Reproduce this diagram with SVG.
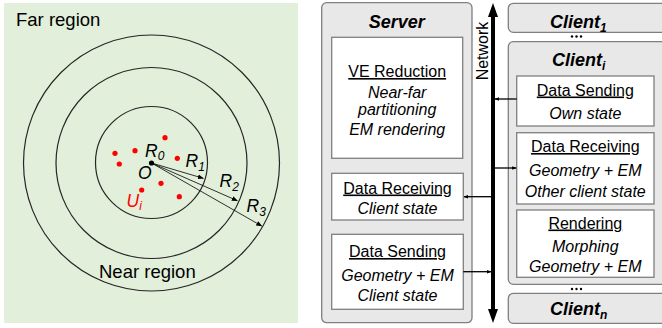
<svg xmlns="http://www.w3.org/2000/svg" width="662" height="328" viewBox="0 0 662 328">
<defs>
<style>
text{font-family:"Liberation Sans",Arial,sans-serif;fill:#000}
.lbl{font-size:18.5px}
.m{font-style:italic;font-size:17.5px}
.sub{font-style:italic;font-size:12px}
.h{font-size:16px;text-anchor:middle;text-decoration:underline}
.b{font-size:16px;font-style:italic;text-anchor:middle}
.ttl{font-size:18px;font-weight:bold;font-style:italic}
.outer{fill:#e8e8e8;stroke:#7f7f7f;stroke-width:1.3}
.inner{fill:#fff;stroke:#7f7f7f;stroke-width:1.3}
.ring{fill:none;stroke:#262626;stroke-width:1.2}
.conn{stroke:#000;stroke-width:1.3;fill:none}
.thin{stroke:#000;stroke-width:0.8;fill:none}
.dot{fill:#ff0000}
</style>
<marker id="ah" viewBox="0 0 10 10" refX="9" refY="5" markerWidth="4.5" markerHeight="4.5" orient="auto" markerUnits="userSpaceOnUse">
<path d="M0,1 L10,5 L0,9 z" fill="#000"/>
</marker>
<marker id="ahs" viewBox="0 0 10 10" refX="9" refY="5" markerWidth="6" markerHeight="6" orient="auto" markerUnits="userSpaceOnUse">
<path d="M0,1 L10,5 L0,9 z" fill="#000"/>
</marker>
</defs>

<!-- Left panel: near-far regions -->
<g id="regions">
<rect x="4" y="3" width="294" height="320" fill="#e2efda"/>
<circle cx="151.5" cy="163" r="128" fill="#fbe5d6" class="ring"/>
<circle cx="151.5" cy="163" r="95.5" class="ring"/>
<circle cx="151.5" cy="162.5" r="56" class="ring"/>
<text class="lbl" x="16" y="26">Far region</text>
<text class="lbl" x="99" y="278">Near region</text>
</g>
<g id="users">
<circle class="dot" cx="115" cy="153.3" r="2.6"/>
<circle class="dot" cx="135" cy="150.7" r="2.6"/>
<circle class="dot" cx="165" cy="137.7" r="2.6"/>
<circle class="dot" cx="119.3" cy="164" r="2.6"/>
<circle class="dot" cx="177.3" cy="158.3" r="2.6"/>
<circle class="dot" cx="161" cy="183.3" r="2.6"/>
<circle class="dot" cx="141.7" cy="190" r="2.6"/>
<circle class="dot" cx="179.3" cy="196.7" r="2.6"/>
<circle cx="151.5" cy="163" r="2.6" fill="#000"/>
</g>
<g id="radii">
<line class="thin" x1="151.5" y1="163" x2="203.3" y2="178.3" marker-end="url(#ahs)"/>
<line class="thin" x1="151.5" y1="163" x2="237.3" y2="200.7" marker-end="url(#ahs)"/>
<line class="thin" x1="151.5" y1="163" x2="261.7" y2="226" marker-end="url(#ahs)"/>
<text class="m" x="145" y="156.5">R<tspan class="sub" dy="3">0</tspan></text>
<text class="m" x="138" y="178.5">O</text>
<text class="m" x="185.5" y="166.5">R<tspan class="sub" dy="4">1</tspan></text>
<text class="m" x="219.5" y="186.5">R<tspan class="sub" dy="4">2</tspan></text>
<text class="m" x="246.5" y="211.5">R<tspan class="sub" dy="4">3</tspan></text>
<text class="m" x="126.5" y="206.5" style="fill:#ff0000">U<tspan class="sub" dy="3" style="fill:#ff0000">i</tspan></text>
</g>

<!-- Server -->
<g id="server">
<rect class="outer" x="321.7" y="2.7" width="150.3" height="320" rx="5"/>
<text class="ttl" x="396.8" y="27.5" text-anchor="middle">Server</text>
</g>
<g id="ve-reduction">
<rect class="inner" x="331.7" y="37.3" width="131" height="121"/>
<text class="h" x="397.2" y="77">VE Reduction</text>
<text class="b" x="397.2" y="97.5">Near-far</text>
<text class="b" x="397.2" y="115">partitioning</text>
<text class="b" x="397.2" y="135">EM rendering</text>
</g>
<g id="server-receiving">
<rect class="inner" x="331.7" y="173.3" width="131.6" height="46.7"/>
<text class="h" x="397.5" y="193.5">Data Receiving</text>
<text class="b" x="397.5" y="213.5">Client state</text>
</g>
<g id="server-sending">
<rect class="inner" x="331.7" y="234.3" width="131.6" height="75"/>
<text class="h" x="397.5" y="257">Data Sending</text>
<text class="b" x="397.5" y="280.5">Geometry + EM</text>
<text class="b" x="397.5" y="300.5">Client state</text>
</g>

<!-- Network -->
<g id="network">
<line x1="493" y1="14" x2="493" y2="311" stroke="#000" stroke-width="4"/>
<polygon points="493,3 488,17 498,17" fill="#000"/>
<polygon points="493,323 488,309 498,309" fill="#000"/>
<text x="0" y="0" transform="translate(487.5,51) rotate(-90)" text-anchor="middle" font-size="16">Network</text>
</g>

<!-- Clients -->
<g id="client-1">
<rect class="outer" x="508.3" y="3.3" width="158" height="29" rx="5"/>
<text class="ttl" x="550" y="28">Client<tspan font-size="12" dy="4">1</tspan></text>
</g>
<g id="dots-top">
<circle cx="572" cy="36.5" r="1.2" fill="#000"/>
<circle cx="576.5" cy="36.5" r="1.2" fill="#000"/>
<circle cx="581" cy="36.5" r="1.2" fill="#000"/>
</g>
<g id="client-i">
<rect class="outer" x="508.3" y="41.7" width="158" height="242.6" rx="5"/>
<text class="ttl" x="552" y="66">Client<tspan font-size="12" dy="4">i</tspan></text>
</g>
<g id="client-sending">
<rect class="inner" x="516.7" y="76" width="137.3" height="50"/>
<text class="h" x="585.3" y="95.5">Data Sending</text>
<text class="b" x="585.3" y="118.5">Own state</text>
</g>
<g id="client-receiving">
<rect class="inner" x="516.7" y="132.7" width="137.3" height="71.3"/>
<text class="h" x="585.3" y="152">Data Receiving</text>
<text class="b" x="585.3" y="175.5">Geometry + EM</text>
<text class="b" x="585.3" y="197">Other client state</text>
</g>
<g id="client-rendering">
<rect class="inner" x="516.7" y="210" width="137.3" height="67.3"/>
<text class="h" x="585.3" y="228.5">Rendering</text>
<text class="b" x="585.3" y="251.5">Morphing</text>
<text class="b" x="585.3" y="271.5">Geometry + EM</text>
</g>
<g id="dots-bottom">
<circle cx="572" cy="289" r="1.2" fill="#000"/>
<circle cx="576.5" cy="289" r="1.2" fill="#000"/>
<circle cx="581" cy="289" r="1.2" fill="#000"/>
</g>
<g id="client-n">
<rect class="outer" x="508.3" y="293.3" width="158" height="30" rx="5"/>
<text class="ttl" x="550" y="315">Client<tspan font-size="12" dy="4">n</tspan></text>
</g>

<!-- Connectors -->
<g id="connectors">
<line class="conn" x1="491" y1="196.7" x2="464" y2="196.7" marker-end="url(#ah)"/>
<line class="conn" x1="463.3" y1="271.7" x2="491" y2="271.7" marker-end="url(#ah)"/>
<line class="conn" x1="516.7" y1="99" x2="495" y2="99" marker-end="url(#ah)"/>
<line class="conn" x1="495" y1="168" x2="516.2" y2="168" marker-end="url(#ah)"/>
</g>
</svg>
